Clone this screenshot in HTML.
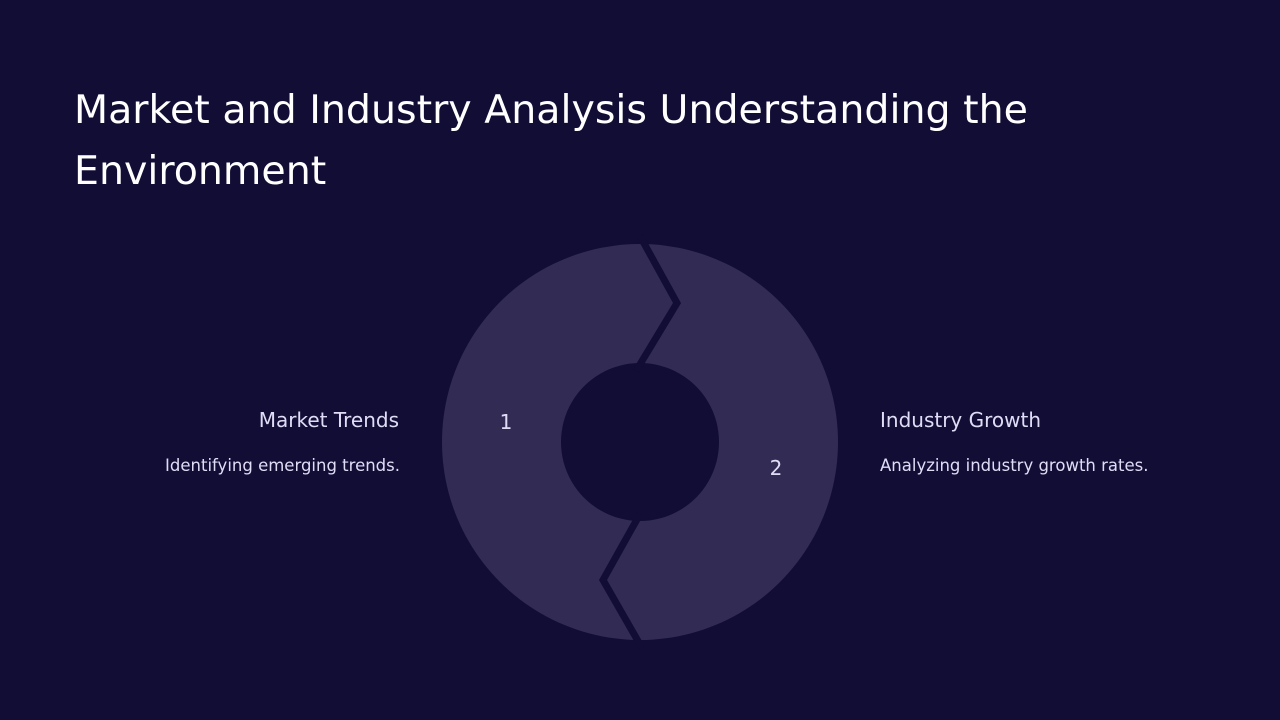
<!DOCTYPE html>
<html><head><meta charset="utf-8"><style>
html,body{margin:0;padding:0}
body{width:1280px;height:720px;background:#110d35;position:relative;overflow:hidden;font-family:"DejaVu Sans",sans-serif;color:#fff}
h1{position:absolute;left:74px;top:80px;margin:0;font-weight:400;font-size:39.5px;line-height:61px;color:#fff;font-family:"DejaVu Sans",sans-serif;white-space:nowrap}
.t{position:absolute;font-size:20px;color:#e0dcf5;font-family:"DejaVu Sans",sans-serif;white-space:nowrap}
.d{position:absolute;font-size:16.5px;color:#e0dcf5;font-family:"DejaVu Sans",sans-serif;white-space:nowrap}
</style></head><body>
<h1>Market and Industry Analysis Understanding the<br>Environment</h1>
<svg width="1280" height="720" style="position:absolute;left:0;top:0">
<path fill="#322c55" fill-rule="evenodd" d="M640,244a198,198 0 1,0 0.01,0Z M640,363a79,79 0 1,0 0.01,0Z"/>
<polyline points="640,236 677,303 636,371" fill="none" stroke="#110d35" stroke-width="7"/>
<polyline points="640,514 603,580 642,648" fill="none" stroke="#110d35" stroke-width="7"/>
<text x="506" y="429" fill="#e0dcf5" font-size="20" text-anchor="middle" font-family="DejaVu Sans,sans-serif">1</text>
<text x="776" y="475" fill="#e0dcf5" font-size="20" text-anchor="middle" font-family="DejaVu Sans,sans-serif">2</text>
</svg>
<div class="t" style="right:881px;top:408px">Market Trends</div>
<div class="d" style="right:880px;top:456px">Identifying emerging trends.</div>
<div class="t" style="left:880px;top:408px">Industry Growth</div>
<div class="d" style="left:880px;top:456px">Analyzing industry growth rates.</div>
</body></html>
